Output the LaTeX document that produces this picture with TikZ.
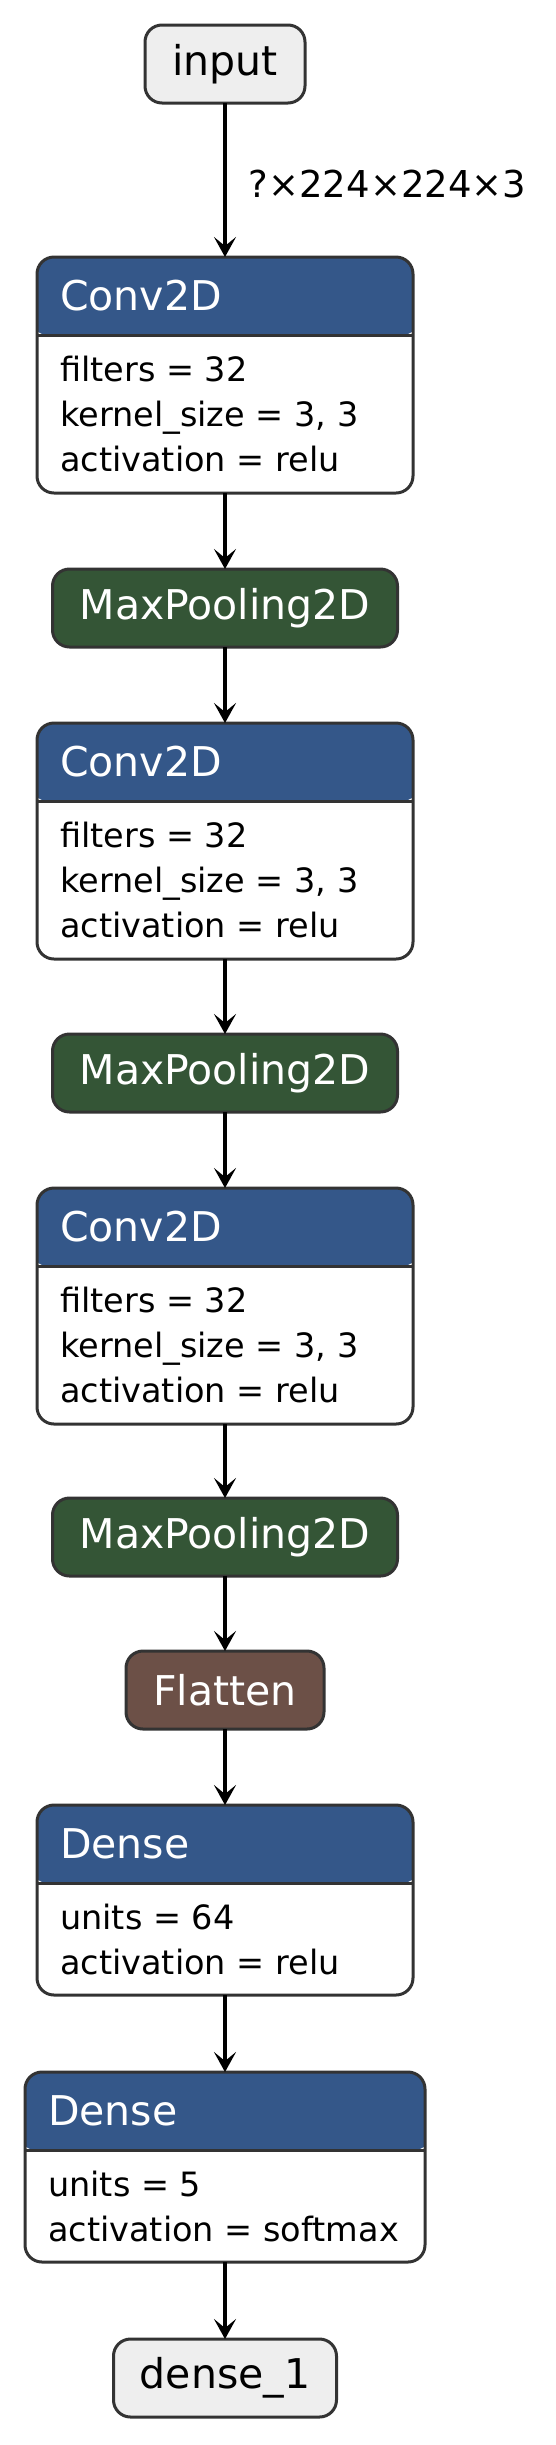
\documentclass[tikz,border=0pt]{standalone}
\usepackage{fontspec}
\setmainfont{DejaVu Sans}
\usetikzlibrary{arrows.meta}

\definecolor{cnnHeadBlue}{HTML}{345789}
\definecolor{cnnPoolGreen}{HTML}{345536}
\definecolor{cnnFlatBrown}{HTML}{6C5047}
\definecolor{cnnIoGray}{HTML}{EEEEEE}
\definecolor{cnnEdge}{HTML}{333333}

\begin{document}
\begin{tikzpicture}[
    x=1pt, y=-1pt,
    cnnBox/.style={rectangle, rounded corners=17pt, draw=cnnEdge,
                   line width=3pt, inner sep=0pt, outer sep=0pt,
                   minimum height=78pt, font=\fontsize{41pt}{49pt}\selectfont},
    cnnIo/.style={cnnBox, fill=cnnIoGray, text=black},
    cnnPool/.style={cnnBox, fill=cnnPoolGreen, text=white, minimum width=345pt},
    cnnFlat/.style={cnnBox, fill=cnnFlatBrown, text=white, minimum width=198pt},
    cnnLayer/.style={cnnBox, fill=white, anchor=north,
                     path picture={
                       \fill[cnnHeadBlue]
                         ([shift={(-6pt,6pt)}]path picture bounding box.north west)
                         rectangle ([shift={(6pt,-78pt)}]path picture bounding box.north east);
                       \draw[draw=cnnEdge, line width=3pt]
                         ([shift={(-6pt,-78pt)}]path picture bounding box.north west)
                         -- ([shift={(6pt,-78pt)}]path picture bounding box.north east);}},
    cnnTitle/.style={anchor=west, inner sep=0pt, text=white,
                     font=\fontsize{41pt}{49pt}\selectfont},
    cnnText/.style={anchor=west, inner sep=0pt, align=left, text=black,
                    font=\fontsize{33.5pt}{45pt}\selectfont},
    cnnArrow/.style={draw=black, line width=3.6pt,
                     -{Stealth[length=20pt, width=22pt, inset=9pt]}}]
  \useasboundingbox (0,0) rectangle (555,2445);

  % input and output
  \node[cnnIo, minimum width=160pt] (input) at (225,64) {input};
  \node[cnnIo, minimum width=223pt] (output) at (225,2378) {dense\_1};

  % layers with parameters
  \foreach \lname/\ltop/\lwd/\lbody/\ltitle/\ltext in {
      conv1/257/376/158/Conv2D/{filters = 32\\kernel\_size = 3, 3\\activation = relu},
      conv2/723/376/158/Conv2D/{filters = 32\\kernel\_size = 3, 3\\activation = relu},
      conv3/1188/376/158/Conv2D/{filters = 32\\kernel\_size = 3, 3\\activation = relu},
      dense1/1805/376/112/Dense/{units = 64\\activation = relu},
      dense2/2072/400/112/Dense/{units = 5\\activation = softmax}}
  {
    \node[cnnLayer, minimum width=\lwd pt, minimum height={(78+\lbody)*1pt}]
      (\lname) at (225,\ltop) {};
    \node[cnnTitle] at ([xshift=23pt, yshift=-39pt]\lname.north west) {\ltitle};
    \node[cnnText] at ([xshift=23pt, yshift=-39pt]\lname.west) {\ltext};
  }

  % layers without parameters
  \node[cnnPool] (pool1) at (225,608) {MaxPooling2D};
  \node[cnnPool] (pool2) at (225,1073) {MaxPooling2D};
  \node[cnnPool] (pool3) at (225,1537) {MaxPooling2D};
  \node[cnnFlat] (flat) at (225,1690) {Flatten};

  % connections
  \draw[cnnArrow] (input) -- node[right, xshift=22pt, yshift=-4pt, inner sep=0pt,
      font=\fontsize{37pt}{44pt}\selectfont] {?×224×224×3} (conv1);
  \foreach \a/\b in {conv1/pool1, pool1/conv2, conv2/pool2, pool2/conv3,
                     conv3/pool3, pool3/flat, flat/dense1, dense1/dense2,
                     dense2/output}
    \draw[cnnArrow] (\a) -- (\b);
\end{tikzpicture}
\end{document}
